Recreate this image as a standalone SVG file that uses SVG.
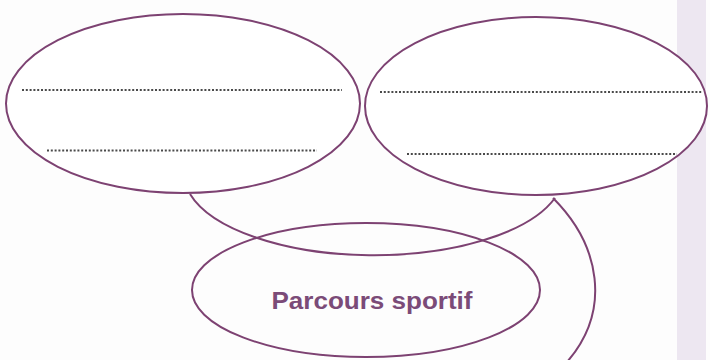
<svg xmlns="http://www.w3.org/2000/svg" width="710" height="360" viewBox="0 0 710 360">
<style>
.shape{fill:#fff;stroke:#7d4272;stroke-width:2}
.link{fill:none;stroke:#7d4272;stroke-width:2}
.dots{stroke:#4a4a4a;stroke-width:2;stroke-dasharray:2 1.8}
.lbl{font-family:"Liberation Sans",Arial,sans-serif;font-weight:bold;font-size:23.5px;fill:#7b4b78}
</style>
<rect x="0" y="0" width="710" height="360" fill="#fdfdfd"/>
<rect x="677" y="0" width="29" height="360" fill="#ede7f1"/>
<g id="connectors">
<path class="link" d="M190,194 A190 82 0 0 0 555,198"/>
<path class="link" d="M553,198 C600,245 612,310 567,362"/>
</g>
<g id="node-bottom">
<ellipse class="shape" cx="366" cy="290" rx="174" ry="67" style="fill:none"/>
<text class="lbl" x="372" y="309" text-anchor="middle" textLength="201" lengthAdjust="spacingAndGlyphs">Parcours sportif</text>
</g>
<g id="node-left">
<ellipse class="shape" cx="183" cy="103.5" rx="177" ry="89.5"/>
<line class="dots" x1="22" y1="90" x2="342" y2="90"/>
<line class="dots" x1="47" y1="150.5" x2="317" y2="150.5"/>
</g>
<g id="node-right">
<ellipse class="shape" cx="536" cy="106" rx="171" ry="89"/>
<line class="dots" x1="380" y1="92" x2="703" y2="92"/>
<line class="dots" x1="407" y1="154" x2="677" y2="154"/>
</g>
</svg>
